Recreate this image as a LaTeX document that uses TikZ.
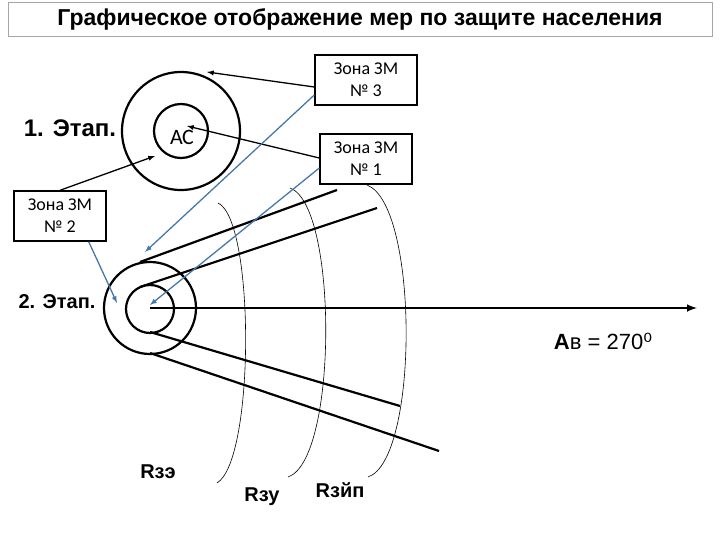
\documentclass[tikz,border=0pt]{standalone}
\usepackage{fontspec}
\setmainfont{Liberation Sans}
\newfontfamily\zf{Carlito}
\newfontfamily\djvfont{DejaVu Sans}
\definecolor{steel}{RGB}{70,120,170}
\begin{document}
\begin{tikzpicture}[x=1pt,y=-1pt,
  zone/.style={draw,line width=1.4pt,minimum width=98pt,minimum height=50pt,align=center,font=\zf\fontsize{18}{22}\selectfont},
  thick1/.style={line width=2.2pt},
  blk/.style={line width=1.3pt,-latex},
  blu/.style={line width=1.3pt,-latex,color=steel},
  arcl/.style={line width=0.6pt}]
\useasboundingbox (0,0) rectangle (720,540);
\node[draw=gray!70,line width=0.8pt,minimum width=704pt,minimum height=34pt,font=\bfseries\fontsize{23}{26}\selectfont] (title) at (360,19) {Графическое отображение мер по защите населения};
% top circles
\node[circle,draw,thick1,minimum size=118pt,inner sep=0] (o1) at (181,131) {};
\node[circle,draw,thick1,minimum size=54pt,inner sep=0] (i1) at (181,131) {};
\node[font=\zf\fontsize{22}{24}\selectfont] (ac) at (182,137) {АС};
\node[font=\bfseries\fontsize{24}{26}\selectfont] (e1) at (70,128) {1. Этап.};
% zones
\node[zone,minimum width=102pt] (z3) at (366,80) {Зона ЗМ\\№ 3};
\node[zone,minimum width=92pt] (z1) at (366,159) {Зона ЗМ\\№ 1};
\node[zone,minimum width=92pt] (z2) at (60,216) {Зона ЗМ\\№ 2};
% lower circles
\node[circle,draw,thick1,minimum size=92pt,inner sep=0] (o2) at (150,308) {};
\node[circle,draw,thick1,minimum size=48pt,inner sep=0] (i2) at (150,309) {};
\coordinate (c2) at (150,308);
\node[font=\bfseries\fontsize{20}{22}\selectfont] (e2) at (57,302) {2. Этап.};
\coordinate (axe) at (697,308);
\draw[line width=2.4pt,-latex] (c2) -- (axe);
\coordinate (a1) at (140,262); \coordinate (b1) at (337,190);
\coordinate (a2) at (140,287); \coordinate (b2) at (377,208);
\coordinate (a3) at (150,332); \coordinate (b3) at (400,406);
\coordinate (a4) at (150,353); \coordinate (b4) at (439,451);
\draw[thick1] (a1) -- (b1);
\draw[thick1] (a2) -- (b2);
\draw[thick1] (a3) -- (b3);
\draw[thick1] (a4) -- (b4);
% arcs
\draw[arcl] (218,203) .. controls (255,220) and (255,460) .. (217,483);
\draw[arcl] (290,188) .. controls (338,205) and (338,460) .. (288,477);
\draw[arcl] (367,185) .. controls (419,205) and (419,460) .. (368,477);
% arrows
\coordinate (t3) at (207,72);
\coordinate (tac) at (187,126);
\coordinate (t2) at (155,156);
\draw[blk] (z3.west|-0,87) -- (t3);
\draw[blk] (z1.west|-0,158) -- (tac);
\draw[blk] (z2.north) ++(0,0) -- (t2);
\coordinate (u3) at (145,252);
\coordinate (u1) at (150,305);
\coordinate (u2) at (117,303);
\draw[blu] (z3.west|-0,95) -- (u3);
\draw[blu] (z1.west|-0,168) -- (u1);
\draw[blu] (z2.south east) ++(-18,0) -- (u2);
% labels
\node[font=\bfseries\fontsize{20}{22}\selectfont] (r1) at (158,472) {Rзэ};
\node[font=\bfseries\fontsize{20}{22}\selectfont] (r2) at (262,497) {Rзу};
\node[font=\bfseries\fontsize{20}{22}\selectfont] (r3) at (340,490) {Rзйп};
\node[font=\fontsize{22}{24}\selectfont] (av) at (603,341) {\textbf{А}в = 270{\djvfont ⁰}};
\end{tikzpicture}
\end{document}
